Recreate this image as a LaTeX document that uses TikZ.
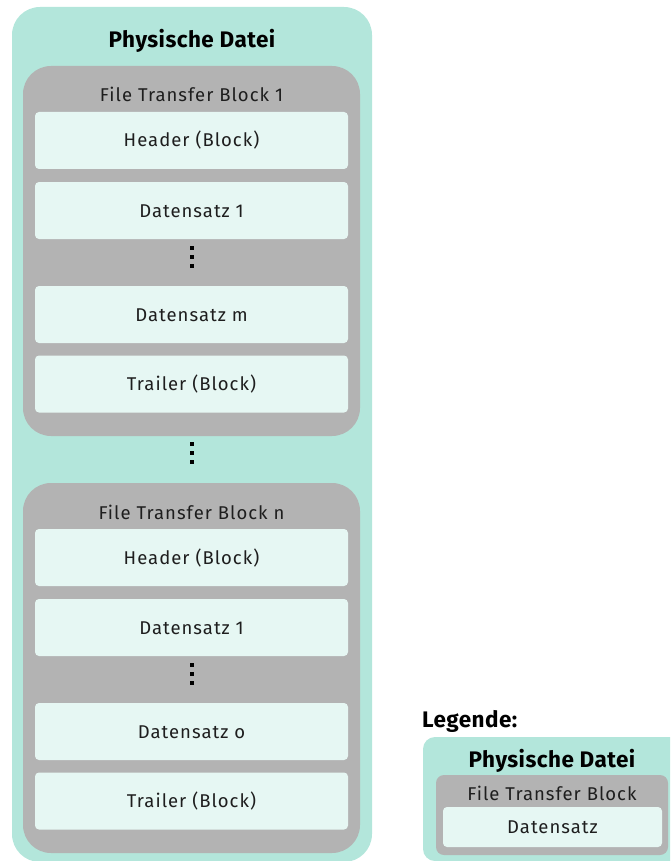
\documentclass[tikz,border=0pt]{standalone}
\usepackage{fontspec}
\setmainfont{Fira Sans}
\definecolor{tuerkis}{HTML}{B3E6DB}
\definecolor{grau}{HTML}{B3B3B3}
\definecolor{hell}{HTML}{E6F7F3}
\definecolor{schrift}{HTML}{1E1E1E}
\tikzset{datei/.style = {fill=tuerkis, rounded corners=28pt, inner sep=0pt},
         ftb/.style = {fill=grau, rounded corners=28pt, inner sep=0pt, minimum width=337pt, minimum height=370pt},
         satz/.style = {fill=hell, rounded corners=4pt, inner sep=0pt, minimum width=313pt, minimum height=57pt,
                        text height=13pt, text depth=0pt, text=schrift,
                        font=\addfontfeatures{LetterSpace=5.5}\fontsize{18.5}{20}\selectfont},
         titel/.style = {anchor=base, inner sep=0pt, font=\addfontfeatures{LetterSpace=2}\fontsize{22.5}{26}\selectfont\bfseries},
         ftbtitel/.style = {anchor=base, inner sep=0pt, text=schrift,
                            font=\addfontfeatures{LetterSpace=5.5}\fontsize{18.5}{20}\selectfont},
         pkt/.style = {fill=black, minimum size=3.5pt, inner sep=0pt}}
\begin{document}
\begin{tikzpicture}[x=1pt, y=-1pt]
    \clip (0,0) rectangle (670,861);
    % physische Datei
    \node[datei, minimum width=360pt, minimum height=855pt] (datei) at (192,434.5) {};
    \node[titel] (dateititel) at (192,48) {Physische Datei};
    % Block 1
    \node[ftb] (ftb1) at (191.5,251) {};
    \node[ftbtitel] (ftb1titel) at (191.5,102) {File Transfer Block 1};
    \node[satz] (h1) at (191.5,140.5) {Header (Block)};
    \node[satz] (d11) at (191.5,210.5) {Datensatz 1};
    \node[pkt] (p1) at (192,248) {}; \node[pkt] (p2) at (192,257) {}; \node[pkt] (p3) at (192,266) {};
    \node[satz] (d1m) at (191.5,314.5) {Datensatz m};
    \node[satz] (t1) at (191.5,384) {Trailer (Block)};
    % zwischen den Bloecken
    \node[pkt] (p4) at (192,444) {}; \node[pkt] (p5) at (192,453) {}; \node[pkt] (p6) at (192,462) {};
    % Block n
    \node[ftb] (ftbn) at (191.5,668) {};
    \node[ftbtitel] (ftbntitel) at (191.5,519) {File Transfer Block n};
    \node[satz] (hn) at (191.5,557.5) {Header (Block)};
    \node[satz] (dn1) at (191.5,627.5) {Datensatz 1};
    \node[pkt] (p7) at (192,665) {}; \node[pkt] (p8) at (192,674) {}; \node[pkt] (p9) at (192,683) {};
    \node[satz] (dno) at (191.5,731.5) {Datensatz o};
    \node[satz] (tn) at (191.5,801) {Trailer (Block)};
    % Legende
    \node[titel, anchor=base west] (legende) at (422,727) {Legende:};
    \node[datei, rounded corners=12pt, minimum width=267pt, minimum height=124pt] (ldatei) at (556.5,799) {};
    \node[titel] (ldateititel) at (552,767) {Physische Datei};
    \node[ftb, rounded corners=8pt, minimum width=232pt, minimum height=80pt] (lftb) at (552,815) {};
    \node[ftbtitel] (lftbtitel) at (552,800) {File Transfer Block};
    \node[satz, minimum width=219pt, minimum height=40pt] (lsatz) at (552.5,827) {Datensatz};
\end{tikzpicture}
\end{document}
